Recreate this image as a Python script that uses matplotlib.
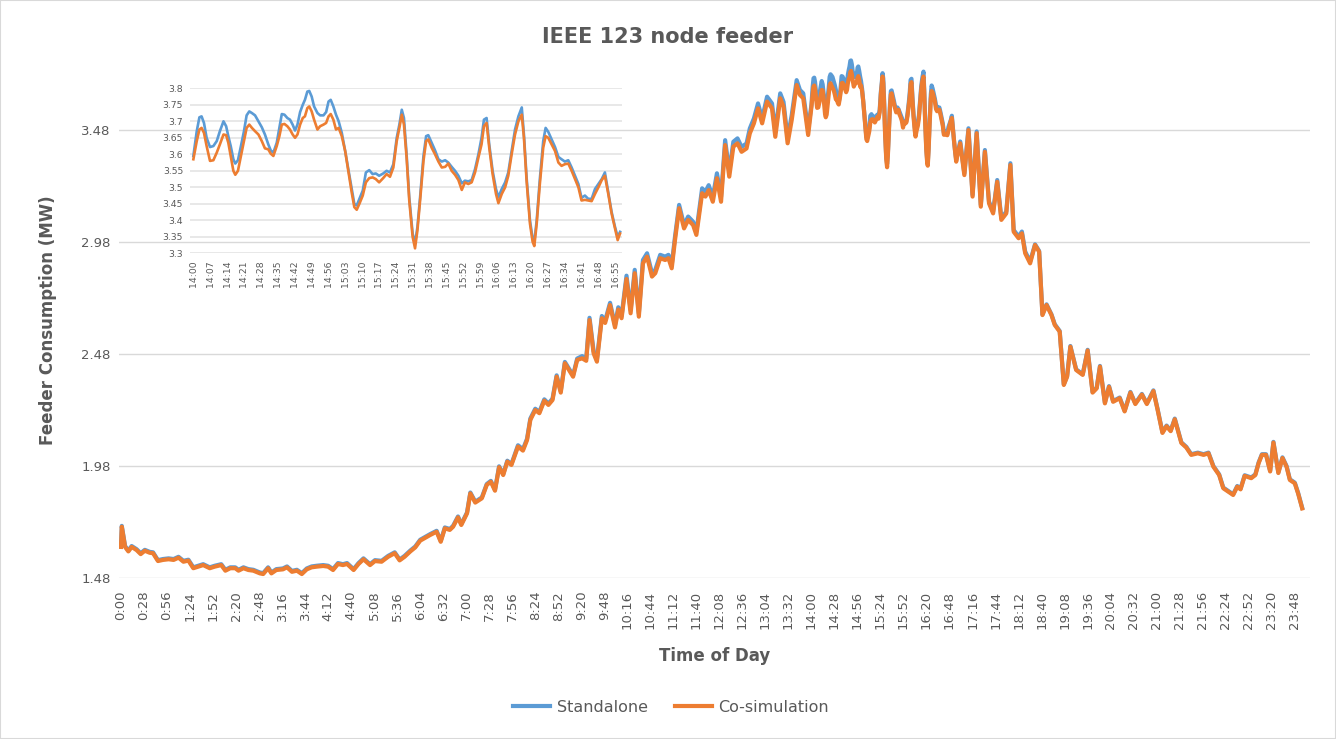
import matplotlib
matplotlib.use('Agg')
import matplotlib.pyplot as plt
from matplotlib.patches import Rectangle

# minutes after midnight (before 14:00)
am_t = [0, 1, 5, 9, 13, 19, 24, 29, 35, 39, 45, 51, 58, 64, 70, 76, 82, 88, 94, 100,
        108, 114, 122, 127, 133, 139, 143, 149, 155, 161, 169, 173, 179, 183, 189, 197, 202, 208, 214, 220,
        226, 232, 238, 246, 252, 258, 264, 270, 275, 283, 289, 295, 303, 309, 317, 325, 333, 339, 345, 352,
        358, 364, 376, 384, 389, 394, 400, 404, 410, 414, 421, 425, 431, 439, 445, 450, 455, 460, 465, 470,
        475, 483, 489, 494, 498, 504, 509, 515, 520, 525, 530, 535, 540, 545, 550, 555, 561, 566, 570, 575,
        579, 585, 589, 595, 601, 605, 609, 615, 620, 625, 630, 635, 640, 646, 650, 656, 662, 666, 670, 674,
        679, 685, 690, 696, 700, 707, 711, 715, 720, 725, 730, 735, 740, 745, 750, 755, 761, 765, 770, 775,
        780, 786, 792, 796, 802, 806, 811, 816, 822, 826, 830, 836]
am_cosim = [1.62, 1.71, 1.62, 1.60, 1.62, 1.606, 1.588, 1.603, 1.594, 1.592, 1.557, 1.562, 1.565, 1.562, 1.572, 1.554, 1.559, 1.525, 1.532, 1.539,
            1.525, 1.532, 1.539, 1.514, 1.525, 1.525, 1.514, 1.525, 1.517, 1.514, 1.502, 1.499, 1.525, 1.502, 1.517, 1.520, 1.529, 1.509, 1.514, 1.499,
            1.520, 1.529, 1.532, 1.535, 1.532, 1.517, 1.544, 1.539, 1.544, 1.517, 1.544, 1.565, 1.539, 1.557, 1.554, 1.576, 1.592, 1.560, 1.576, 1.600,
            1.618, 1.648, 1.673, 1.688, 1.643, 1.703, 1.696, 1.710, 1.752, 1.718, 1.770, 1.859, 1.818, 1.837, 1.897, 1.911, 1.871, 1.976, 1.941, 2.001,
            1.986, 2.068, 2.050, 2.097, 2.187, 2.231, 2.217, 2.273, 2.254, 2.276, 2.380, 2.309, 2.440, 2.410, 2.380, 2.455, 2.462, 2.451, 2.633, 2.484,
            2.447, 2.641, 2.620, 2.700, 2.600, 2.680, 2.641, 2.816, 2.663, 2.842, 2.648, 2.886, 2.916, 2.827, 2.842, 2.909, 2.901, 2.909, 2.864, 2.990,
            3.132, 3.042, 3.080, 3.057, 3.013, 3.199, 3.184, 3.213, 3.161, 3.266, 3.161, 3.414, 3.273, 3.407, 3.422, 3.384, 3.399, 3.466, 3.511, 3.578,
            3.511, 3.608, 3.578, 3.451, 3.623, 3.585, 3.422, 3.526, 3.682, 3.638, 3.623, 3.459]
am_standalone = [1.624, 1.714, 1.624, 1.604, 1.624, 1.610, 1.592, 1.607, 1.598, 1.596, 1.561, 1.566, 1.569, 1.566, 1.576, 1.558, 1.563, 1.529, 1.536, 1.543,
                 1.529, 1.536, 1.543, 1.518, 1.529, 1.529, 1.518, 1.529, 1.521, 1.518, 1.506, 1.503, 1.529, 1.506, 1.521, 1.524, 1.533, 1.513, 1.518, 1.503,
                 1.524, 1.533, 1.536, 1.539, 1.536, 1.521, 1.548, 1.543, 1.548, 1.521, 1.548, 1.569, 1.543, 1.561, 1.558, 1.580, 1.596, 1.564, 1.580, 1.604,
                 1.622, 1.652, 1.677, 1.692, 1.647, 1.707, 1.700, 1.714, 1.756, 1.722, 1.774, 1.863, 1.822, 1.841, 1.901, 1.915, 1.875, 1.980, 1.945, 2.005,
                 1.990, 2.074, 2.056, 2.103, 2.193, 2.237, 2.223, 2.279, 2.260, 2.282, 2.386, 2.315, 2.446, 2.416, 2.386, 2.461, 2.472, 2.461, 2.643, 2.494,
                 2.457, 2.651, 2.630, 2.710, 2.610, 2.690, 2.651, 2.831, 2.678, 2.857, 2.663, 2.901, 2.931, 2.842, 2.857, 2.924, 2.916, 2.924, 2.879, 3.005,
                 3.147, 3.057, 3.095, 3.072, 3.028, 3.221, 3.206, 3.235, 3.183, 3.288, 3.183, 3.436, 3.295, 3.429, 3.444, 3.406, 3.421, 3.488, 3.533, 3.600,
                 3.533, 3.630, 3.600, 3.473, 3.645, 3.607, 3.444, 3.548, 3.704, 3.660, 3.645, 3.481]

# 14:00-16:57 window, minutes after 14:00 (the inset shows this part)
zoom_t = [0, 1.4, 2.5, 3.4, 4.4, 5.5, 6.9, 8.3, 9.7, 11, 12.5, 13.6, 14.5, 15.5, 16.6, 17.4, 18.5, 19.6, 21, 22.1,
          23.2, 24.3, 25.6, 27, 28.4, 29.7, 31.1, 32.1, 33.2, 34.6, 35.7, 36.7, 37.8, 39, 40.1, 41.2, 42.2, 43.2, 44.3, 45.4,
          46.3, 47.3, 48.1, 49.1, 50.1, 51.5, 52.6, 54, 55.1, 56.1, 57, 58.1, 59.2, 60.3, 61.6, 63, 64.3, 65.7, 66.8, 67.8,
          68.9, 70.3, 71.6, 73, 74.4, 75.7, 77.1,
          78.8, 80.2, 81.6, 83, 84.4, 85.5, 86.5, 87.4, 88.5, 89.6, 91, 92, 93, 94.1, 95.5, 96.6, 97.5, 98.9, 100.3, 101.7,
          103.1, 104.5, 105.8, 107.2, 108.6, 110, 111.4, 112.7, 114.1, 115.5, 116.9, 118.3, 119.6, 120.6, 121.7, 122.8, 124.2, 125.6, 126.6, 128,
          129.4, 130.7, 132.1, 133.5, 134.9, 136.3, 137.2, 138.3, 139.7, 140.8, 141.5, 142.5, 143.8, 145.2, 146.2, 147.3, 148.7, 150.1, 151.5, 152.8,
          154.2, 155.6, 157, 158.4, 159.8, 161.1, 162.5, 163.9, 165.3, 166.7, 168.1, 169.5, 170.8, 172.2, 173.6, 175, 176.1, 177.1]
zoom_cosim = [3.585, 3.64, 3.675, 3.68, 3.665, 3.625, 3.58, 3.582, 3.605, 3.63, 3.66, 3.658, 3.635, 3.595, 3.55, 3.538, 3.55, 3.59, 3.64, 3.68,
              3.69, 3.68, 3.67, 3.66, 3.64, 3.618, 3.615, 3.602, 3.595, 3.625, 3.655, 3.69, 3.692, 3.685, 3.675, 3.66, 3.65, 3.66, 3.69, 3.71,
              3.715, 3.74, 3.745, 3.73, 3.705, 3.675, 3.685, 3.69, 3.695, 3.715, 3.722, 3.705, 3.675, 3.68, 3.655, 3.61, 3.55, 3.485, 3.44, 3.432,
              3.45, 3.475, 3.515, 3.528, 3.53, 3.525, 3.515,
              3.528, 3.54, 3.532, 3.56, 3.64, 3.68, 3.72, 3.69, 3.59, 3.46, 3.35, 3.315, 3.37, 3.46, 3.58, 3.64, 3.645, 3.62, 3.60, 3.578,
              3.56, 3.562, 3.572, 3.55, 3.538, 3.522, 3.492, 3.515, 3.51, 3.515, 3.545, 3.59, 3.63, 3.685, 3.695, 3.62, 3.54, 3.48, 3.452, 3.48,
              3.50, 3.535, 3.60, 3.66, 3.70, 3.72, 3.65, 3.52, 3.39, 3.335, 3.322, 3.39, 3.51, 3.62, 3.655, 3.65, 3.63, 3.61, 3.575, 3.565,
              3.57, 3.572, 3.55, 3.525, 3.50, 3.46, 3.462, 3.46, 3.458, 3.48, 3.50, 3.522, 3.535, 3.48, 3.42, 3.375, 3.34, 3.36]
zoom_standalone = [3.595, 3.67, 3.712, 3.715, 3.695, 3.65, 3.622, 3.625, 3.64, 3.67, 3.70, 3.685, 3.655, 3.625, 3.585, 3.572, 3.582, 3.62, 3.67, 3.718,
                   3.73, 3.725, 3.718, 3.70, 3.682, 3.66, 3.63, 3.612, 3.605, 3.635, 3.68, 3.722, 3.72, 3.71, 3.705, 3.69, 3.672, 3.69, 3.728, 3.75,
                   3.765, 3.79, 3.792, 3.775, 3.745, 3.725, 3.718, 3.718, 3.728, 3.76, 3.765, 3.745, 3.72, 3.70, 3.665, 3.61, 3.555, 3.495, 3.45, 3.445,
                   3.465, 3.49, 3.545, 3.552, 3.54, 3.542, 3.535,
                   3.542, 3.55, 3.545, 3.57, 3.65, 3.69, 3.735, 3.71, 3.60, 3.47, 3.36, 3.33, 3.38, 3.47, 3.595, 3.655, 3.658, 3.635, 3.612, 3.585,
                   3.578, 3.582, 3.575, 3.562, 3.55, 3.535, 3.512, 3.52, 3.518, 3.522, 3.555, 3.60, 3.65, 3.705, 3.71, 3.63, 3.55, 3.495, 3.47, 3.495,
                   3.515, 3.545, 3.61, 3.675, 3.715, 3.742, 3.66, 3.53, 3.40, 3.345, 3.335, 3.40, 3.525, 3.64, 3.68, 3.668, 3.645, 3.622, 3.592, 3.585,
                   3.578, 3.582, 3.56, 3.535, 3.51, 3.468, 3.475, 3.465, 3.465, 3.495, 3.51, 3.525, 3.545, 3.485, 3.425, 3.38, 3.35, 3.365]

# after 17:00, minutes after midnight
pm_t = [1021, 1026, 1031, 1036, 1041, 1046, 1051, 1056, 1061, 1066, 1071, 1077, 1082, 1086, 1092, 1096, 1100, 1106, 1112, 1117,
        1121, 1126, 1132, 1136, 1142, 1147, 1151, 1155, 1162, 1170, 1176, 1182, 1187, 1191, 1197, 1202, 1207, 1215, 1221, 1228,
        1234, 1242, 1248, 1256, 1261, 1267, 1272, 1277, 1282, 1290, 1296, 1302, 1310, 1317, 1323, 1329, 1336, 1341, 1347, 1353,
        1358, 1362, 1367, 1375, 1380, 1384, 1388, 1393, 1398, 1402, 1408, 1413, 1418, 1422, 1428, 1432, 1437]
pm_cosim = [3.422, 3.280, 3.481, 3.184, 3.467, 3.139, 3.384, 3.154, 3.109, 3.250, 3.080, 3.109, 3.325, 3.027, 2.998, 3.020, 2.931, 2.886, 2.968, 2.938,
            2.655, 2.700, 2.655, 2.611, 2.581, 2.343, 2.380, 2.514, 2.410, 2.388, 2.497, 2.309, 2.328, 2.425, 2.261, 2.335, 2.268, 2.284, 2.225, 2.309,
            2.258, 2.300, 2.258, 2.316, 2.234, 2.129, 2.159, 2.137, 2.190, 2.084, 2.064, 2.031, 2.038, 2.031, 2.038, 1.978, 1.941, 1.882, 1.867, 1.852,
            1.889, 1.877, 1.937, 1.927, 1.941, 1.994, 2.031, 2.031, 1.957, 2.086, 1.950, 2.017, 1.978, 1.919, 1.904, 1.859, 1.792]
pm_standalone = [3.430, 3.288, 3.489, 3.192, 3.475, 3.147, 3.392, 3.162, 3.117, 3.258, 3.088, 3.117, 3.333, 3.035, 3.006, 3.028, 2.939, 2.894, 2.971, 2.941,
                 2.658, 2.703, 2.658, 2.614, 2.584, 2.346, 2.383, 2.517, 2.413, 2.391, 2.500, 2.312, 2.331, 2.428, 2.264, 2.338, 2.271, 2.287, 2.228, 2.312,
                 2.261, 2.303, 2.261, 2.319, 2.237, 2.132, 2.162, 2.140, 2.193, 2.087, 2.067, 2.034, 2.041, 2.034, 2.041, 1.981, 1.944, 1.885, 1.870, 1.855,
                 1.892, 1.880, 1.940, 1.930, 1.944, 1.997, 2.034, 2.034, 1.960, 2.089, 1.953, 2.020, 1.981, 1.922, 1.907, 1.862, 1.795]

y_ticks = [1.48, 1.98, 2.48, 2.98, 3.48]
inset_y_ticks = [3.3, 3.35, 3.4, 3.45, 3.5, 3.55, 3.6, 3.65, 3.7, 3.75, 3.8]

BLUE = '#5B9BD5'
ORANGE = '#ED7D31'
TXT = '#595959'
GRID = '#D9D9D9'

main_t = am_t + [840 + t for t in zoom_t] + pm_t
main_standalone = am_standalone + zoom_standalone + pm_standalone
main_cosim = am_cosim + zoom_cosim + pm_cosim

W, H = 1336, 739
fig = plt.figure(figsize=(W / 100, H / 100), dpi=100)
fig.patch.set_facecolor('white')

ax = fig.add_axes([119 / W, 1 - 578.3 / H, 1191 / W, 532.3 / H])
ax.plot(main_t, main_standalone, color=BLUE, lw=3.0, solid_joinstyle='round', label='Standalone')
ax.plot(main_t, main_cosim, color=ORANGE, lw=3.0, solid_joinstyle='round', label='Co-simulation')
ax.set_xlim(-2.4, 1446.5)
ax.set_ylim(1.48, 1.48 + 532.3 / 224)
ax.set_yticks(y_ticks)
ax.set_yticklabels([f'{v:.2f}' for v in y_ticks])
xt = list(range(0, 1440, 28))
ax.set_xticks(xt)
ax.set_xticklabels([f'{m // 60}:{m % 60:02d}' for m in xt], rotation=90)
ax.tick_params(axis='both', length=0, colors=TXT, labelsize=9.5)
ax.tick_params(axis='x', pad=9)
ax.tick_params(axis='y', pad=6)
ax.grid(axis='y', color=GRID, lw=1.0)
ax.set_axisbelow(True)
for s in ax.spines.values():
    s.set_visible(False)
ax.set_xlabel('Time of Day', fontsize=12, fontweight='bold', color=TXT)
ax.set_ylabel('Feeder Consumption (MW)', fontsize=12, fontweight='bold', color=TXT)
ax.xaxis.set_label_coords(0.5, -(647 - 578.3) / 532.3)
ax.yaxis.set_label_coords(-(119 - 57) / 1191, (578.3 - 320) / 532.3)

fig.text(668 / W, 1 - 37 / H, 'IEEE 123 node feeder', ha='center', va='center',
         fontsize=15, fontweight='bold', color=TXT)

# inset: zoom on 14:00-17:00, transparent so the main gridlines show through
ins = fig.add_axes([190 / W, 1 - 253.3 / H, 432 / W, 165 / H], zorder=2)
ins.patch.set_alpha(0)
ins.plot(zoom_t, zoom_standalone, color=BLUE, lw=1.9, solid_joinstyle='round')
ins.plot(zoom_t, zoom_cosim, color=ORANGE, lw=1.9, solid_joinstyle='round')
ins.set_xlim(-1.4, 177.9)
ins.set_ylim(3.3, 3.8)
ins.set_yticks(inset_y_ticks)
ins.set_yticklabels([f'{v:g}' for v in inset_y_ticks])
it = list(range(0, 176, 7))
ins.set_xticks(it)
ins.set_xticklabels([f'{14 + t // 60}:{t % 60:02d}' for t in it], rotation=90)
ins.tick_params(axis='both', length=0, colors=TXT, labelsize=6.7)
ins.tick_params(axis='x', pad=5)
ins.tick_params(axis='y', pad=5)
ins.grid(axis='y', color='#E6E6E6', lw=1.3)
ins.set_axisbelow(True)
for s in ins.spines.values():
    s.set_visible(False)

handles, labels = ax.get_legend_handles_labels()
fig.legend(handles, labels, loc='center', bbox_to_anchor=(671 / W, 1 - 707 / H), ncol=2,
           frameon=False, fontsize=11.5, labelcolor=TXT, handlelength=2.3,
           handletextpad=0.4, columnspacing=1.7)

fig.patches.append(Rectangle((0, 0), 1, 1, transform=fig.transFigure, facecolor='none',
                             edgecolor=GRID, lw=1.5, zorder=0))

fig.savefig('out.png', dpi=100, facecolor='white')
